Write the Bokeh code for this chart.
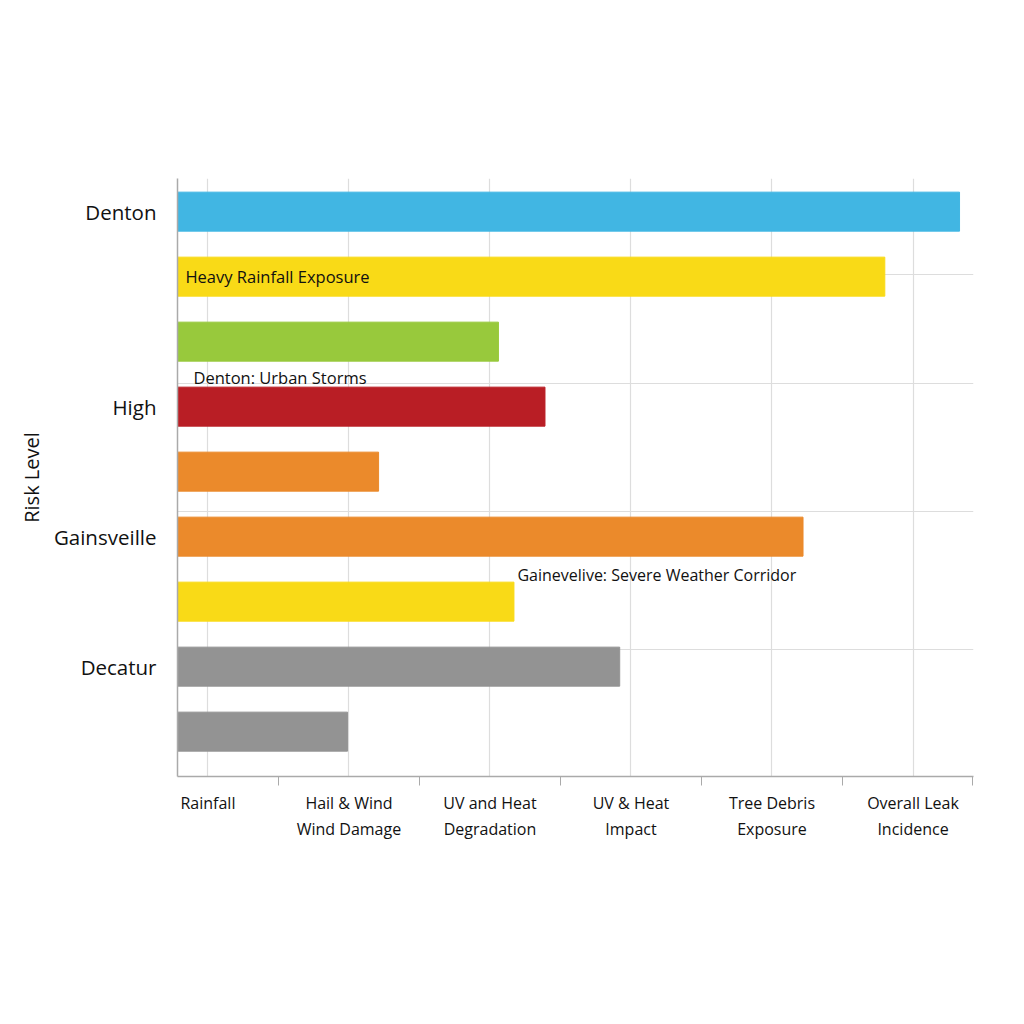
from bokeh.plotting import figure
from bokeh.models import Range1d, FixedTicker, Grid, ColumnDataSource
from bokeh.core.properties import value
from bokeh.embed import file_html
from bokeh.resources import INLINE

# ---- data ----
bar_index = [0, 1, 2, 3, 4, 5, 6, 7, 8]
bar_values = [5.83, 5.30, 2.56, 2.89, 1.71, 4.72, 2.67, 3.42, 1.49]
bar_colors = ["#41B6E3", "#F9DA17", "#98C93C", "#B91E25", "#EB8A2B",
              "#EB8A2B", "#F9DA17", "#939393", "#939393"]

y_tick_pos = [0, 3, 5, 7]
y_tick_labels = ["Denton", "High", "Gainsveille", "Decatur"]

x_categories = ["Rainfall", "Hail & Wind\nWind Damage", "UV and Heat\nDegradation",
                "UV & Heat\nImpact", "Tree Debris\nExposure", "Overall Leak\nIncidence"]

annotations = ["Heavy Rainfall Exposure", "Denton: Urban Storms",
               "Gainevelive: Severe Weather Corridor"]

FONT = "Open Sans"
X0, X1 = 0.284, 5.929

p = figure(width=990, height=990, output_backend="svg", toolbar_location=None,
           x_range=Range1d(X0, X1), y_range=Range1d(8.69, -0.51),
           min_border_left=177, min_border_top=178, min_border_right=17,
           min_border_bottom=214)
p.outline_line_color = None
p.background_fill_color = "white"
p.border_fill_color = "white"

src = ColumnDataSource(dict(y=bar_index, right=bar_values, color=bar_colors,
                            left=[X0] * len(bar_index)))
p.hbar(y="y", left="left", right="right", height=0.6, color="color", source=src)

# x axis
centers = [i + 0.5 for i in range(len(x_categories))]
bounds = [float(i) for i in range(1, len(x_categories))] + [5.92]
p.xaxis.ticker = FixedTicker(ticks=centers, minor_ticks=bounds)
p.xaxis.major_label_overrides = {c: lab for c, lab in zip(centers, x_categories)}
p.xaxis.major_tick_line_color = None
p.xaxis.major_tick_out = 0
p.xaxis.major_tick_in = 0
p.xaxis.minor_tick_in = 0
p.xaxis.minor_tick_out = 9
p.xaxis.minor_tick_line_color = "#aaaaaa"
p.xaxis.axis_line_color = "#aaaaaa"
p.xaxis.axis_line_width = 1.5
p.xaxis.major_label_text_font = FONT
p.xaxis.major_label_text_font_size = "16px"
p.xaxis.major_label_text_color = "#111111"
p.xaxis.major_label_standoff = 6

# y axis
p.yaxis.ticker = FixedTicker(ticks=y_tick_pos)
p.yaxis.major_label_overrides = {t: lab for t, lab in zip(y_tick_pos, y_tick_labels)}
p.yaxis.major_tick_line_color = None
p.yaxis.minor_tick_line_color = None
p.yaxis.axis_line_color = "#aaaaaa"
p.yaxis.axis_line_width = 1.5
p.yaxis.major_label_text_font = FONT
p.yaxis.major_label_text_font_size = "20.5px"
p.yaxis.major_label_text_color = "#111111"
p.yaxis.major_label_standoff = 15
p.yaxis.axis_label = "Risk Level"
p.yaxis.axis_label_text_font = FONT
p.yaxis.axis_label_text_font_size = "20px"
p.yaxis.axis_label_text_font_style = "normal"
p.yaxis.axis_label_text_color = "#111111"
p.yaxis.axis_label_standoff = 6

# grids
p.xgrid.grid_line_color = "#dddddd"
p.xgrid.grid_line_width = 1.2
p.ygrid.grid_line_color = None
hgrid = Grid(dimension=1, ticker=FixedTicker(ticks=[0.97, 2.65, 4.62, 6.74]),
             grid_line_color="#dddddd", grid_line_width=1.2)
p.add_layout(hgrid)

# annotations
p.text(x=[0.34], y=[1.0], text=[annotations[0]], text_font=value(FONT),
       text_font_size="16.5px", text_baseline="middle", text_align="left", text_color="#111111")
p.text(x=[0.397], y=[2.55], text=[annotations[1]], text_font=value(FONT),
       text_font_size="16.5px", text_baseline="middle", text_align="left", text_color="#111111")
p.text(x=[2.695], y=[5.585], text=[annotations[2]], text_font=value(FONT),
       text_font_size="16px", text_baseline="middle", text_align="left", text_color="#111111")

open("out.html", "w").write(file_html(p, INLINE))
